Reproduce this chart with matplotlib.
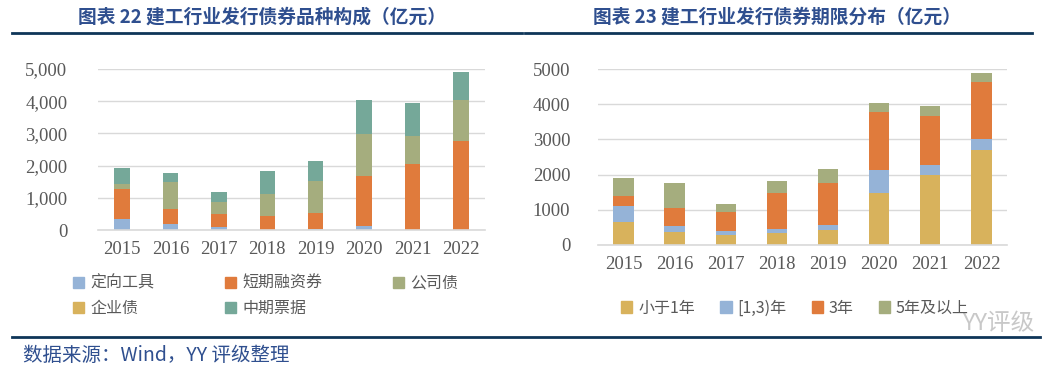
import numpy as np
import matplotlib.pyplot as plt
from matplotlib.patches import Patch
from matplotlib.lines import Line2D
from matplotlib.ticker import FuncFormatter

plt.rcParams['font.family'] = ['Noto Sans CJK SC', 'DejaVu Sans']

# ============================================================
# DATA (亿元)
# ============================================================

years = ["2015", "2016", "2017", "2018", "2019", "2020", "2021", "2022"]

# 图表 22: 品种构成
kind_names = ["定向工具", "短期融资券", "公司债", "企业债", "中期票据"]
dingxiang = [330, 190, 80, 10, 40, 125, 0, 0]
duanrong = [935, 455, 405, 435, 500, 1565, 2045, 2750]
gongsizhai = [155, 840, 395, 685, 995, 1300, 860, 1300]
qiyezhai = [0, 0, 0, 0, 0, 0, 0, 0]
zhongpiao = [500, 300, 300, 715, 620, 1060, 1035, 850]

# 图表 23: 期限分布
term_names = ["小于1年", "[1,3)年", "3年", "5年及以上"]
lt1 = [655, 370, 295, 350, 435, 1475, 2000, 2690]
y1_3 = [445, 160, 95, 115, 135, 645, 265, 315]
y3 = [305, 525, 550, 1015, 1180, 1655, 1395, 1625]
y5plus = [505, 715, 230, 350, 400, 265, 275, 265]

# ============================================================
# STYLE
# ============================================================

C_BLUE = "#95B3D7"
C_ORANGE = "#E07B3C"
C_OLIVE = "#A5AD7E"
C_YELLOW = "#D8B25C"
C_TEAL = "#75A899"
NAVY = "#0E3558"
TITLE_BLUE = "#2F4F8F"
GRID = "#D9D9D9"
TICK = "#595959"
SERIF = "Liberation Serif"

fig = plt.figure(figsize=(10.5, 3.72), dpi=100)


def style_axis(ax, fmt):
    ax.set_ylim(0, 5000)
    ax.set_yticks([0, 1000, 2000, 3000, 4000, 5000])
    ax.yaxis.set_major_formatter(FuncFormatter(fmt))
    ax.grid(axis="y", color=GRID, linewidth=1)
    ax.set_axisbelow(True)
    for s in ["top", "right", "left"]:
        ax.spines[s].set_visible(False)
    ax.spines["bottom"].set_color(GRID)
    ax.spines["bottom"].set_linewidth(1.2)
    ax.tick_params(length=0, labelcolor=TICK, labelsize=13.5)
    for lab in ax.get_xticklabels() + ax.get_yticklabels():
        lab.set_fontfamily(SERIF)
    ax.set_xlim(-0.5, len(years) - 0.5)


# ============================================================
# LEFT: 品种构成
# ============================================================

ax1 = fig.add_axes([0.0933, 0.3817, 0.3686, 0.4328])
x = np.arange(len(years))
left_series = [dingxiang, duanrong, gongsizhai, qiyezhai, zhongpiao]
left_colors = [C_BLUE, C_ORANGE, C_OLIVE, C_YELLOW, C_TEAL]
bottom = np.zeros(len(years))
for vals, col in zip(left_series, left_colors):
    ax1.bar(x, vals, width=0.32, bottom=bottom, color=col, zorder=2)
    bottom += np.array(vals)
ax1.set_xticks(x)
ax1.set_xticklabels(years)
ax1.tick_params(axis="x", pad=8)
ax1.tick_params(axis="y", pad=22)
style_axis(ax1, lambda v, p: f"{int(v):,}")

# legend row-wise
h = [Patch(color=c) for c in left_colors]
order = [0, 3, 1, 4, 2]
fig.legend([h[i] for i in order], [kind_names[i] for i in order],
           ncol=3, loc="upper left", bbox_to_anchor=(0.056, 0.30),
           frameon=False, fontsize=11.5, handlelength=0.7, handleheight=0.7,
           handletextpad=0.4, columnspacing=4.4, labelspacing=0.5,
           labelcolor=TICK)

# ============================================================
# RIGHT: 期限分布
# ============================================================

ax2 = fig.add_axes([0.5695, 0.3414, 0.3895, 0.4731])
right_series = [lt1, y1_3, y3, y5plus]
right_colors = [C_YELLOW, C_BLUE, C_ORANGE, C_OLIVE]
bottom = np.zeros(len(years))
for vals, col in zip(right_series, right_colors):
    ax2.bar(x, vals, width=0.4, bottom=bottom, color=col, zorder=2)
    bottom += np.array(vals)
ax2.set_xticks(x)
ax2.set_xticklabels(years)
ax2.tick_params(axis="x", pad=8)
ax2.tick_params(axis="y", pad=20)
style_axis(ax2, lambda v, p: f"{int(v)}")

h2 = [Patch(color=c) for c in right_colors]
fig.legend(h2, term_names, ncol=4, loc="center left",
           bbox_to_anchor=(0.578, 0.172), frameon=False, fontsize=11.5,
           handlelength=0.7, handleheight=0.7, handletextpad=0.35,
           columnspacing=1.6, labelcolor=TICK)

# ============================================================
# TITLES, RULES, SOURCE
# ============================================================

fig.text(0.074, 0.955, "图表 22 建工行业发行债券品种构成（亿元）", fontsize=13.5,
         fontweight="bold", color=TITLE_BLUE, va="center", ha="left")
fig.text(0.565, 0.955, "图表 23 建工行业发行债券期限分布（亿元）", fontsize=13.5,
         fontweight="bold", color=TITLE_BLUE, va="center", ha="left")

fig.add_artist(Line2D([0.011, 0.497], [0.911, 0.911], color=NAVY, linewidth=2))
fig.add_artist(Line2D([0.500, 0.983], [0.911, 0.911], color=NAVY, linewidth=2))
fig.add_artist(Line2D([0.011, 0.990], [0.094, 0.094], color=NAVY, linewidth=2))

fig.text(0.022, 0.045, "数据来源：Wind，YY 评级整理", fontsize=14,
         color=TITLE_BLUE, va="center", ha="left")

# watermark
fig.text(0.985, 0.13, "YY评级", fontsize=17, color="#BBBBBB",
         va="center", ha="right", alpha=0.8)

fig.savefig("out.png", dpi=100)
print("done")
